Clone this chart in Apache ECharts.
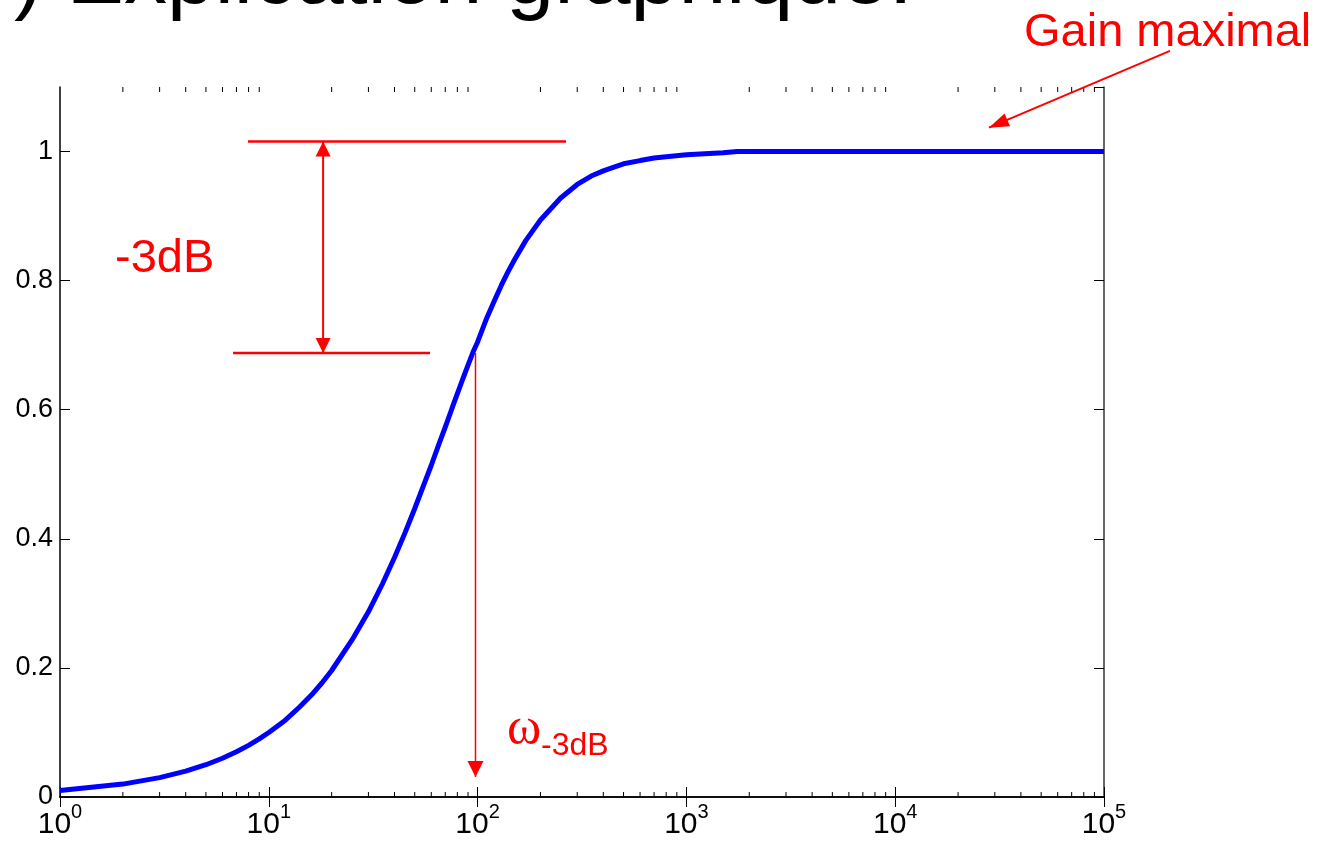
<!DOCTYPE html>
<html lang="fr" style="height: 100%">
<head>
<meta charset="utf-8">
<title>Explication graphique</title>
</head>
<body style="height: 100%; margin: 0; background: #fff">
<div id="container" style="width: 1329px; height: 843px"></div>

<script type="text/javascript" src="https://cdn.jsdelivr.net/npm/echarts/dist/echarts.min.js"></script>

<script type="text/javascript">

var dom = document.getElementById('container');
var myChart = echarts.init(dom);
var option;

// Curve: pulsation (log axis) vs gain
var omega = [1, 2, 3, 4, 5, 6, 7, 8, 9, 10, 12, 14, 16, 18, 20, 25, 30, 35, 40, 45, 50, 55,
  60, 65, 70, 75, 80, 85, 90, 95, 100, 110, 120, 130, 140, 150, 170, 200, 250, 300, 350,
  400, 450, 500, 600, 700, 800, 1000, 1500, 1750, 4000, 25000, 100000];
var gain = [0.010, 0.020, 0.030, 0.040, 0.050, 0.060, 0.070, 0.080, 0.090, 0.100, 0.119,
  0.139, 0.158, 0.177, 0.196, 0.243, 0.287, 0.330, 0.371, 0.410, 0.447, 0.482,
  0.514, 0.545, 0.573, 0.600, 0.625, 0.648, 0.669, 0.689, 0.705, 0.740, 0.768, 0.793,
  0.814, 0.832, 0.862, 0.894, 0.928, 0.949, 0.962, 0.970, 0.976, 0.981, 0.986, 0.990,
  0.992, 0.995, 0.998, 1.000, 1.000, 1.000, 1.000];

// Axis ticks
var xDecades = [1, 10, 100, 1000, 10000];
var minorMantissas = [2, 3, 4, 5, 6, 7, 8, 9];
var yMin = 0, yMax = 1.1, yStep = 0.2;

// Red annotations, in data coordinates [omega, gain]
var topRef = [[7.95, 1.0155], [265, 1.0155]];
var lowRef = [[6.74, 0.688], [59.2, 0.688]];
var dbArrow = [[18.2, 1.0155], [18.2, 0.688]];
var cutArrow = [[97.7, 0.688], [97.7, 0.031]];
var gainArrow = [[207000, 1.156], [28100, 1.037]];

var red = '#ff0000';
var blue = '#0000ff';

var minorTicks = [];
xDecades.forEach(function (d) {
  minorMantissas.forEach(function (m) { minorTicks.push([m * d, 0]); });
});

option = {
  animation: false,
  backgroundColor: '#fff',
  grid: { left: 60, right: 225, top: 87, bottom: 46 },
  xAxis: [{
    type: 'log',
    logBase: 10,
    min: 1,
    max: 100000,
    position: 'bottom',
    axisLine: { lineStyle: { color: '#000', width: 1.5 } },
    axisTick: { inside: true, length: 10, lineStyle: { color: '#000', width: 1 } },
    splitLine: { show: false },
    axisLabel: {
      margin: 5,
      color: '#000',
      fontFamily: 'Liberation Sans',
      formatter: function (v) {
        return '{b|10}{s|' + Math.round(Math.log10(v)) + '}';
      },
      rich: {
        b: { fontSize: 30, lineHeight: 46, color: '#000', fontFamily: 'Liberation Sans' },
        s: { fontSize: 20, lineHeight: 20, verticalAlign: 'top', color: '#000', fontFamily: 'Liberation Sans' }
      }
    }
  }, {
    type: 'log',
    logBase: 10,
    min: 1,
    max: 100000,
    position: 'top',
    axisLine: { lineStyle: { color: '#000', width: 1.5 } },
    axisTick: { inside: true, length: 10, lineStyle: { color: '#000', width: 1 } },
    axisLabel: { show: false },
    splitLine: { show: false }
  }],
  yAxis: [{
    type: 'value',
    min: yMin,
    max: yMax,
    interval: yStep,
    position: 'left',
    axisLine: { show: true, lineStyle: { color: '#000', width: 1.5 } },
    axisTick: { show: true, inside: true, length: 10, lineStyle: { color: '#000', width: 1 } },
    splitLine: { show: false },
    axisLabel: {
      margin: 7,
      showMaxLabel: false,
      color: '#000',
      fontSize: 27,
      fontFamily: 'Liberation Sans',
      formatter: function (v) { return String(Math.round(v * 10) / 10); }
    }
  }, {
    type: 'value',
    min: yMin,
    max: yMax,
    interval: yStep,
    position: 'right',
    axisLine: { show: true, lineStyle: { color: '#333', width: 1.5 } },
    axisTick: { show: true, inside: true, length: 10, lineStyle: { color: '#000', width: 1 } },
    splitLine: { show: false },
    axisLabel: { show: false }
  }],
  series: [{
    type: 'line',
    xAxisIndex: 0,
    yAxisIndex: 0,
    showSymbol: false,
    symbol: 'none',
    lineStyle: { color: blue, width: 5 },
    data: omega.map(function (w, i) { return [w, gain[i]]; }),
    z: 3
  }, {
    // minor log ticks, bottom and top
    type: 'custom',
    xAxisIndex: 0,
    yAxisIndex: 0,
    clip: false,
    silent: true,
    encode: { x: 0, y: 1 },
    data: minorTicks,
    renderItem: function (params, api) {
      var v = api.value(0);
      var b = api.coord([v, yMin]);
      var t = api.coord([v, yMax]);
      return {
        type: 'group',
        children: [
          { type: 'line', shape: { x1: b[0], y1: b[1], x2: b[0], y2: b[1] - 5 }, style: { stroke: '#000', lineWidth: 1 } },
          { type: 'line', shape: { x1: t[0], y1: t[1], x2: t[0], y2: t[1] + 5 }, style: { stroke: '#000', lineWidth: 1 } }
        ]
      };
    }
  }]
};

myChart.setOption(option);

// annotations placed through the chart's own scales
function px(p) {
  return myChart.convertToPixel({ xAxisIndex: 0, yAxisIndex: 0 }, p);
}
function seg(a, b, w) {
  var p = px(a), q = px(b);
  return { type: 'line', shape: { x1: p[0], y1: p[1], x2: q[0], y2: q[1] },
    style: { stroke: red, lineWidth: w }, z: 10 };
}
function head(tip, from, len, wid) {
  var dx = tip[0] - from[0], dy = tip[1] - from[1];
  var d = Math.sqrt(dx * dx + dy * dy);
  var ux = dx / d, uy = dy / d;
  var bx = tip[0] - ux * len, by = tip[1] - uy * len;
  return { type: 'polygon', shape: { points: [tip,
    [bx - uy * wid / 2, by + ux * wid / 2], [bx + uy * wid / 2, by - ux * wid / 2]] },
    style: { fill: red }, z: 11 };
}

var dTop = px(dbArrow[0]), dBot = px(dbArrow[1]);
var cTop = px(cutArrow[0]), cBot = px(cutArrow[1]);
var gTail = px(gainArrow[0]), gTip = px(gainArrow[1]);

myChart.setOption({
  graphic: [
    seg(topRef[0], topRef[1], 2.5),
    seg(lowRef[0], lowRef[1], 2.5),
    seg(dbArrow[0], dbArrow[1], 2),
    head(dTop, dBot, 15, 15),
    head(dBot, dTop, 15, 15),
    seg(cutArrow[0], cutArrow[1], 1.5),
    head(cBot, cTop, 16, 16),
    seg(gainArrow[0], gainArrow[1], 2),
    head(gTip, gTail, 20, 14),
    { type: 'text', left: 14, top: -64, z: 12,
      style: { text: ') Explication graphique:', fill: '#000', fontSize: 86,
        fontFamily: 'Liberation Sans' } },
    { type: 'text', left: 115, top: 236, z: 12,
      style: { text: '-3dB', fill: red, fontSize: 47,
        fontFamily: 'Liberation Sans' } },
    { type: 'text', left: 1024, top: 10, z: 12,
      style: { text: 'Gain maximal', fill: red, fontSize: 47,
        fontFamily: 'Liberation Sans' } },
    { type: 'text', left: 507, top: 703, z: 12,
      style: { text: '\u03c9', fill: red, fontSize: 52,
        fontFamily: 'Liberation Serif' } },
    { type: 'text', left: 541, top: 730, z: 12,
      style: { text: '-3dB', fill: red, fontSize: 32,
        fontFamily: 'Liberation Sans' } }
  ]
});

window.addEventListener('resize', myChart.resize);
</script>
</body>
</html>
